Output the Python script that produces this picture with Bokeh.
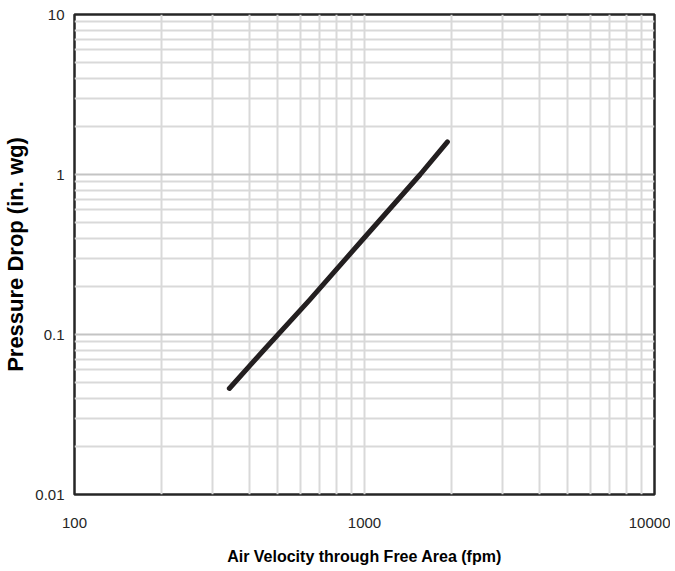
from bokeh.plotting import figure
from bokeh.models import FixedTicker, CustomJSTickFormatter
from bokeh.embed import file_html
from bokeh.resources import INLINE

# Data
velocity_fpm = [342, 450, 646, 1000, 1556, 1932]
pressure_inwg = [0.046, 0.080, 0.164, 0.404, 1.0, 1.6]

x_major = [100, 1000, 10000]
x_minor = [200, 300, 400, 500, 600, 700, 800, 900,
           2000, 3000, 4000, 5000, 6000, 7000, 8000, 9000]
y_major = [0.01, 0.1, 1, 10]
y_minor = [0.02, 0.03, 0.04, 0.05, 0.06, 0.07, 0.08, 0.09,
           0.2, 0.3, 0.4, 0.5, 0.6, 0.7, 0.8, 0.9,
           2, 3, 4, 5, 6, 7, 8, 9]

x_title = "Air Velocity through Free Area (fpm)"
y_title = "Pressure Drop (in. wg)"

FONT = "Liberation Sans"

p = figure(width=670, height=567, x_axis_type="log", y_axis_type="log",
           x_range=(100, 10000), y_range=(0.01, 10),
           output_backend="svg", toolbar_location=None,
           min_border_left=74, min_border_right=16,
           min_border_top=14, min_border_bottom=73)

p.xaxis.ticker = FixedTicker(ticks=x_major, minor_ticks=x_minor)
p.yaxis.ticker = FixedTicker(ticks=y_major, minor_ticks=y_minor)
fmt = CustomJSTickFormatter(code="return String(Number(tick.toPrecision(6)));")
p.xaxis.formatter = fmt
p.yaxis.formatter = fmt

for ax in (p.xaxis, p.yaxis):
    ax.axis_line_color = None
    ax.major_tick_line_color = None
    ax.minor_tick_line_color = None
    ax.major_tick_out = 0
    ax.major_tick_in = 0
    ax.minor_tick_out = 0
    ax.minor_tick_in = 0
    ax.major_label_text_font = FONT
    ax.major_label_text_font_size = "15px"
    ax.major_label_text_color = "#262626"
    ax.axis_label_text_color = "#000000"
    ax.axis_label_text_font_style = "bold"
    ax.axis_label_text_font = FONT

p.xaxis.major_label_standoff = 23
p.yaxis.major_label_standoff = 10
p.xaxis.axis_label = x_title
p.xaxis.axis_label_text_font_size = "16px"
p.xaxis.axis_label_standoff = 17
p.yaxis.axis_label = y_title
p.yaxis.axis_label_text_font_size = "22px"
p.yaxis.axis_label_standoff = 4

p.xgrid.grid_line_color = "#d9d9d9"
p.xgrid.grid_line_width = 2
p.xgrid.minor_grid_line_color = "#d9d9d9"
p.xgrid.minor_grid_line_width = 2
p.ygrid.grid_line_color = "#c4c4c4"
p.ygrid.grid_line_width = 2
p.ygrid.minor_grid_line_color = "#d9d9d9"
p.ygrid.minor_grid_line_width = 2

p.outline_line_color = "#262626"
p.outline_line_width = 2.5
p.background_fill_color = "white"
p.border_fill_color = "white"

p.line(velocity_fpm, pressure_inwg, line_color="#231f20", line_width=5,
       line_cap="round", line_join="round")

open("out.html", "w").write(file_html(p, INLINE))
